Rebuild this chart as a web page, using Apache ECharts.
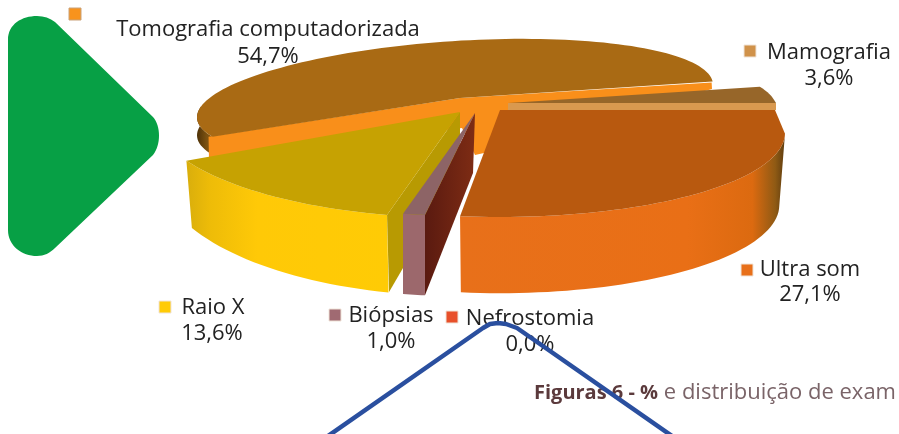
<!DOCTYPE html>
<html><head><meta charset="utf-8">
<style>html,body{margin:0;padding:0;background:#fff;overflow:hidden}#c{width:899px;height:434px}</style>
<script src="https://cdn.jsdelivr.net/npm/echarts@6/dist/echarts.min.js"></script>
</head><body><div id="c"></div>
<script>
var categories = ['Tomografia computadorizada','Mamografia','Raio X','Biópsias','Nefrostomia','Ultra som'];
var values = [54.7,3.6,13.6,1.0,0.0,27.1];
var markerColors = ['#f8931d','#d0924a','#ffcb05','#a06a72','#e8502a','#e8701a'];
var captionBold = 'Figuras 6 - %';
var captionRest = ' e distribuição de exam';

var FONT = '"Open Sans", sans-serif';
// geometry of each exploded slice (projection of the 3D pie); sweep comes from values
var geo = [
 {ax:460,ay:98, cx:455,cy:101,rx:258,ry:60, k:-0.063,start:160,  D:18,sx:1,sy:1, top:'#a96a14'},
 {ax:508,ay:103,cx:508,cy:107,rx:268,ry:59, k:0,start:-20,       D:7,sx:1,sy:1, top:'#976629', end:[[776,103]]},
 {ax:460,ay:112,cx:460,cy:112,rx:308,ry:106,k:0,start:103.7,     D:58,sx:.98,sy:1.19, top:'#c6a202'},
 {ax:475,ay:113,cx:475,cy:113,rx:355,ry:103,k:0,start:98.1,      D:60,sx:1,sy:1.2, top:'#8d6466'},
 null,
 {ax:500,ay:110,cx:500,cy:133,rx:285,ry:84, k:0,start:0.5,       D:72,sx:.98,sy:1.05, top:'#b8590f', shoulder:[775,110]}
];
var labelPos = [
 {mx:69,my:8, tx:268,ty:30,px:268,py:57},
 {mx:744,my:45,tx:829,ty:53,px:829,py:79},
 {mx:159,my:301,tx:213,ty:308,px:212,py:334},
 {mx:329,my:309,tx:391,ty:316,px:391,py:342},
 {mx:446,my:311,tx:530,ty:319,px:530,py:345},
 {mx:741,my:264,tx:810,ty:270,px:810,py:295}
];
function arc(g,a,b){var r=[],n=Math.max(6,Math.ceil(Math.abs(b-a)/2));
 for(var i=0;i<=n;i++){var t=(a+(b-a)*i/n)*Math.PI/180,dx=g.rx*Math.cos(t),dy=g.ry*Math.sin(t);
  r.push([dx,dy+g.k*dx]);}return r;}
function T(g,p){return [g.cx+p[0],g.cy+p[1]];}
function B(g,p){return [g.cx+p[0]*g.sx,g.cy+g.D+p[1]*g.sy];}
function grad(stops){return {type:'linear',x:0,y:0,x2:1,y2:0,colorStops:stops.map(function(s){return {offset:s[0],color:s[1]};})};}
function poly(pts,fill){return {type:'polygon',shape:{points:pts},style:{fill:fill}};}
function wall(g,a,b,fill){var r=arc(g,a,b);
 return poly(r.map(function(p){return T(g,p);}).concat(r.slice().reverse().map(function(p){return B(g,p);})),fill);}
function sweep(v){return v/100*360;}

function renderItem(params,api){
 var i=params.dataIndex,v=api.value(0),g=geo[i],ch=[];
 if(g){
  var e=g.start+sweep(v),r=arc(g,g.start,e),top=r.map(function(p){return T(g,p);});
  var pts=[[g.ax,g.ay]];
  if(g.shoulder)pts.push(g.shoulder);
  pts=pts.concat(top);
  if(g.end)pts=pts.concat(g.end);
  var s0=top[0],s1=top[top.length-1];
  if(i===0){
   ch.push(wall(g,g.start,190,grad([[0,'#4e3208'],[.6,'#7a5010'],[1,'#8f5c12']])));
   ch.push(poly([[g.ax,g.ay],[s1[0]-1,s1[1]+1],[712,89],[484,153],[475,155],[462,128],[209,160],[s0[0]-4,s0[1]]],'#f98f1a'));
  }
  if(i===1){
   ch.push(poly([[g.ax,g.ay],[776,103],[776,110],[g.ax,110]],'#d9994f'));
  }
  if(i===2){
   ch.push(wall(g,g.start,e,grad([[0,'#d9ae0c'],[.12,'#eebc08'],[.35,'#ffc907'],[1,'#ffcb05']])));
   ch.push(poly([[g.ax,g.ay],s0,[s0[0]+2,s0[1]+77],[g.ax,g.ay+58]],'#b89a02'));
  }
  if(i===3){
   ch.push(poly([[g.ax,g.ay],[g.ax-2,g.ay+60],B(g,r[0]),s0],grad([[0,'#5a1a10'],[1,'#7e2c14']])));
   ch.push(wall(g,g.start,e,'#9c686c'));
  }
  if(i===5){
   ch.push(wall(g,g.start,e,grad([[0,'#e8701a'],[.7,'#e96f16'],[.9,'#dc6a10'],[.97,'#8f5a14'],[1,'#5f3d10']])));
  }
  ch.push(poly(pts,g.top));
 }
 var l=labelPos[i];
 ch.push({type:'rect',shape:{x:l.mx,y:l.my,width:12,height:12},
   style:{fill:markerColors[i],stroke:i===0?'#c9a27a':'#f0e4d8',lineWidth:1}});
 ch.push({type:'text',style:{x:l.tx,y:l.ty,text:categories[i],align:'center',verticalAlign:'middle',font:'22px '+FONT,fill:'#222'}});
 ch.push({type:'text',style:{x:l.px,y:l.py,text:v.toFixed(1).replace('.',',')+'%',align:'center',verticalAlign:'middle',font:'22px '+FONT,fill:'#222'}});
 return {type:'group',children:ch};
}
function renderOverlay(){
 return {type:'group',children:[
  {type:'text',style:{x:534,y:393,verticalAlign:'middle',text:'{b|'+captionBold+'}{r|'+captionRest+'}',
    rich:{b:{fontFamily:'Open Sans',fontSize:20,fontWeight:'bold',fill:'#5b3a3c'},
          r:{fontFamily:'Open Sans',fontSize:22,fill:'#7a6468'}}}},
  {type:'path',shape:{pathData:'M8,40 C8,24 22,16 37,16 C44,16 50,18 55,22 L153,117 C161,126 161,145 153,155 L55,248 C50,253 44,256 37,256 C22,256 8,246 8,230 Z',x:8,y:16,width:151,height:240,layout:'cover'},style:{fill:'#07a045'}},
  {type:'polyline',shape:{points:[[328,436],[483,328],[490,324],[498,323],[506,324],[517,328],[672,436]]},style:{stroke:'#2a4f9f',lineWidth:4.5,fill:null,lineJoin:'round'}}
 ]};
}
var chart=echarts.init(document.getElementById('c'),null,{renderer:'canvas'});
chart.setOption({
 animation:false,
 backgroundColor:'#fff',
 series:[
  {type:'custom',coordinateSystem:'none',renderItem:renderItem,data:values.map(function(v){return [v];}),silent:true,clip:false,z:1},
  {type:'custom',coordinateSystem:'none',renderItem:renderOverlay,data:[[0]],silent:true,clip:false,z:5}
 ]
});
</script></body></html>
